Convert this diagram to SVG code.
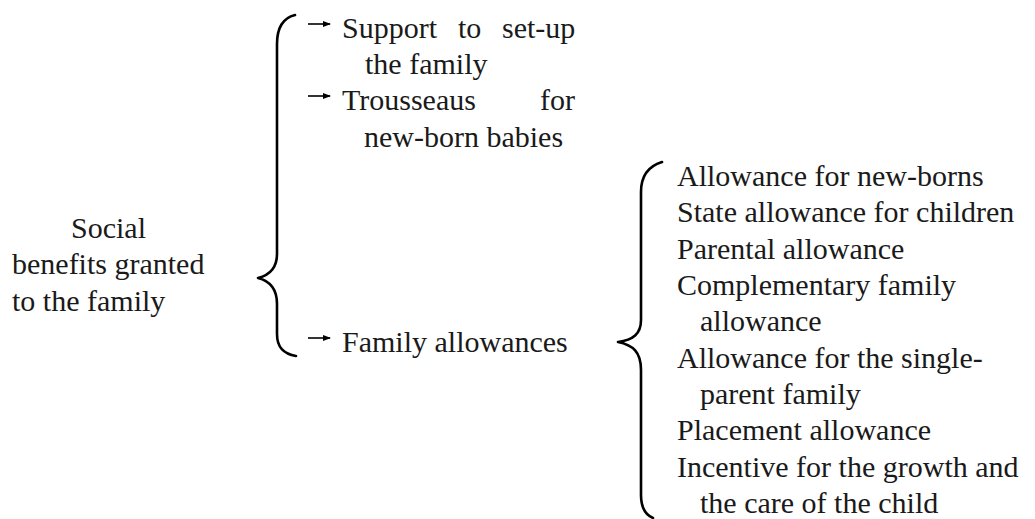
<svg xmlns="http://www.w3.org/2000/svg" width="1035" height="519" viewBox="0 0 1035 519">
<style>
text{font-family:"Liberation Serif","DejaVu Serif",serif;font-size:30px;fill:#1a1a1a}
.br{fill:none;stroke:#000;stroke-width:2.6;stroke-linecap:round;stroke-linejoin:round}
.ar{fill:none;stroke:#000;stroke-width:1.6}
</style>
<defs>
<marker id="ah" viewBox="0 0 8 6" refX="7" refY="3" markerWidth="8" markerHeight="6" markerUnits="userSpaceOnUse" orient="auto">
<path d="M0,0 L8,3 L0,6 Z" fill="#000"/>
</marker>
</defs>
<g id="connectors">
<path class="br" d="M295,15 C283,18 277,28 277,44 L277,254 C277,268 270,275 258,278 C270,281 277,290 277,304 L277,334 C277,348 284,354 296,356"/>
<path class="br" d="M662,162 C649,166 641,176 641,192 L641,320 C641,334 633,340 618,342 C633,345 641,352 641,370 L641,495 C641,508 646,515 653,518"/>
<line class="ar" x1="308" y1="24" x2="330" y2="24" marker-end="url(#ah)"/>
<line class="ar" x1="308" y1="96" x2="330" y2="96" marker-end="url(#ah)"/>
<line class="ar" x1="308" y1="338" x2="330" y2="338" marker-end="url(#ah)"/>
</g>
<g id="root">
<text x="71" y="238" font-family="Liberation Serif, DejaVu Serif, serif">Social</text>
<text x="12" y="274">benefits granted</text>
<text x="12" y="311">to the family</text>
</g>
<g id="support">
<text x="342" y="38">Support</text>
<text x="458" y="38">to</text>
<text x="502" y="38">set-up</text>
<text x="365" y="74">the family</text>
</g>
<g id="trousseaus">
<text x="342" y="110">Trousseaus</text>
<text x="540" y="110">for</text>
<text x="364" y="147">new-born babies</text>
</g>
<g id="family-allowances">
<text x="342" y="352">Family allowances</text>
</g>
<g id="allowances-list">
<text x="677" y="186">Allowance for new-borns</text>
<text x="677" y="222">State allowance for children</text>
<text x="677" y="259">Parental allowance</text>
<text x="677" y="295">Complementary family</text>
<text x="700" y="331">allowance</text>
<text x="677" y="368">Allowance for the single-</text>
<text x="700" y="404">parent family</text>
<text x="677" y="440">Placement allowance</text>
<text x="677" y="477">Incentive for the growth and</text>
<text x="700" y="513">the care of the child</text>
</g>
</svg>
